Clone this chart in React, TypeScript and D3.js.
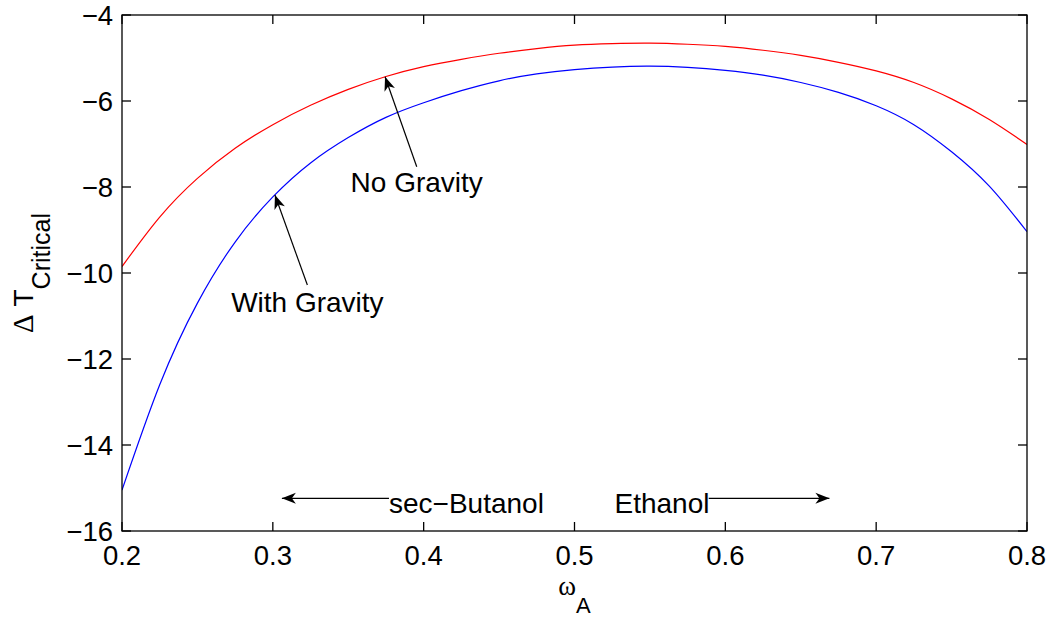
import React from "react";
import * as d3 from "d3";

const omegaA = [0.200, 0.225, 0.250, 0.275, 0.300, 0.325, 0.350, 0.375, 0.400, 0.425, 0.450, 0.475, 0.500, 0.525, 0.550, 0.575, 0.600, 0.625, 0.650, 0.675, 0.700, 0.725, 0.750, 0.775, 0.800];
const noGravityDT = [-9.85, -8.70, -7.80, -7.10, -6.55, -6.10, -5.73, -5.43, -5.20, -5.03, -4.89, -4.78, -4.70, -4.665, -4.655, -4.68, -4.73, -4.82, -4.94, -5.10, -5.30, -5.57, -5.95, -6.43, -7.01];
const withGravityDT = [-15.05, -12.60, -10.70, -9.28, -8.23, -7.44, -6.85, -6.38, -6.04, -5.76, -5.53, -5.37, -5.27, -5.21, -5.19, -5.22, -5.29, -5.40, -5.57, -5.80, -6.11, -6.55, -7.18, -7.98, -9.04];

const xTicks = [0.2, 0.3, 0.4, 0.5, 0.6, 0.7, 0.8];
const yTicks = [-16, -14, -12, -10, -8, -6, -4];

// annotations (data coordinates)
const arrowLabels = ["No Gravity", "With Gravity"];
const arrowTips = [[0.3744, -5.435], [0.3014, -8.186]];
const arrowTails = [[0.3954, -7.528], [0.3229, -10.28]];
const arrowTextBaseline = [-8.12, -10.9];

const bottomLabels = ["sec\u2212Butanol", "Ethanol"];
const bottomArrowY = -15.24;
const bottomTextBaseline = -15.58;
const bottomTextStart = [0.377, 0.5265];
const bottomArrowFrom = [0.377, 0.589];
const bottomArrowTo = [0.306, 0.669];

const W = 1050;
const H = 617;
const PL = 122, PR = 1027, PT = 15, PB = 531;
const SANS = "'Liberation Sans', Arial, Helvetica, sans-serif";
const SERIF = "'Liberation Serif', 'DejaVu Serif', serif";

function arrowHead(tx: number, ty: number, fx: number, fy: number) {
  const ang = Math.atan2(ty - fy, tx - fx);
  const L = 14, Wd = 11, N = 10;
  const pts: [number, number][] = [[0, 0], [-L, -Wd / 2], [-N, 0], [-L, Wd / 2]];
  const c = Math.cos(ang), s = Math.sin(ang);
  const p = pts.map(([a, b]) => [tx + a * c - b * s, ty + a * s + b * c]);
  return `M${p.map((q) => q.join(",")).join("L")}Z`;
}

export default function App() {
  const x = d3.scaleLinear().domain([0.2, 0.8]).range([PL, PR]);
  const y = d3.scaleLinear().domain([-16, -4]).range([PB, PT]);
  const line = d3
    .line<[number, number]>()
    .x((d) => x(d[0]))
    .y((d) => y(d[1]))
    .curve(d3.curveNatural);

  const red = line(omegaA.map((o, i) => [o, noGravityDT[i]] as [number, number])) || "";
  const blue = line(omegaA.map((o, i) => [o, withGravityDT[i]] as [number, number])) || "";
  const fmtX = d3.format(".1f");
  const fmtY = d3.format("");
  const tl = 9;

  return (
    <svg width={W} height={H} style={{ position: "absolute", left: 0, top: 0, background: "#fff" }}>
      <rect x={0} y={0} width={W} height={H} fill="#fff" />
      <defs>
        <clipPath id="plot">
          <rect x={PL} y={PT} width={PR - PL} height={PB - PT} />
        </clipPath>
      </defs>
      {/* curves */}
      <g clipPath="url(#plot)">
        <path d={red} fill="none" stroke="#ff0000" strokeWidth={1.2} />
        <path d={blue} fill="none" stroke="#0000ff" strokeWidth={1.2} />
      </g>
      {/* axes box and ticks */}
      <g stroke="#000" strokeWidth={1.3} fill="none">
        <rect x={PL} y={PT} width={PR - PL} height={PB - PT} />
        {xTicks.map((t) => (
          <g key={"xt" + t}>
            <line x1={x(t)} x2={x(t)} y1={PB} y2={PB - tl} />
            <line x1={x(t)} x2={x(t)} y1={PT} y2={PT + tl} />
          </g>
        ))}
        {yTicks.map((t) => (
          <g key={"yt" + t}>
            <line x1={PL} x2={PL + tl} y1={y(t)} y2={y(t)} />
            <line x1={PR} x2={PR - tl} y1={y(t)} y2={y(t)} />
          </g>
        ))}
      </g>
      <g fontFamily={SANS} fontSize={27.5} fill="#000">
        {xTicks.map((t) => (
          <text key={"xl" + t} x={x(t)} y={565} textAnchor="middle">
            {fmtX(t)}
          </text>
        ))}
        {yTicks.map((t) => (
          <text key={"yl" + t} x={113} y={y(t) + 9.6} textAnchor="end">
            {fmtY(t)}
          </text>
        ))}
      </g>
      {/* axis labels */}
      <text x={(PL + PR) / 2} y={595} textAnchor="middle" fill="#000">
        <tspan fontFamily={SERIF} fontSize={27}>ω</tspan>
        <tspan fontFamily={SANS} fontSize={22} dy={18}>A</tspan>
      </text>
      <text transform={`translate(33,${(PT + PB) / 2}) rotate(-90)`} textAnchor="middle" fill="#000">
        <tspan fontFamily={SERIF} fontSize={29}>Δ</tspan>
        <tspan fontFamily={SANS} fontSize={28}> T</tspan>
        <tspan fontFamily={SANS} fontSize={25} dy={17}>Critical</tspan>
      </text>
      {/* text arrows */}
      {arrowLabels.map((lab, i) => {
        const tx = x(arrowTips[i][0]), ty = y(arrowTips[i][1]);
        const fx = x(arrowTails[i][0]), fy = y(arrowTails[i][1]);
        return (
          <g key={lab}>
            <line x1={fx} y1={fy} x2={tx} y2={ty} stroke="#000" strokeWidth={1.2} />
            <path d={arrowHead(tx, ty, fx, fy)} fill="#000" />
            <text x={fx} y={y(arrowTextBaseline[i])} textAnchor="middle" fontFamily={SANS} fontSize={28} fill="#000">
              {lab}
            </text>
          </g>
        );
      })}
      {bottomLabels.map((lab, i) => {
        const fx = x(bottomArrowFrom[i]), ty = y(bottomArrowY), tx = x(bottomArrowTo[i]);
        return (
          <g key={lab}>
            <line x1={fx} y1={ty} x2={tx} y2={ty} stroke="#000" strokeWidth={1.2} />
            <path d={arrowHead(tx, ty, fx, ty)} fill="#000" />
            <text x={x(bottomTextStart[i])} y={y(bottomTextBaseline)} fontFamily={SANS} fontSize={28} fill="#000">
              {lab}
            </text>
          </g>
        );
      })}
    </svg>
  );
}
